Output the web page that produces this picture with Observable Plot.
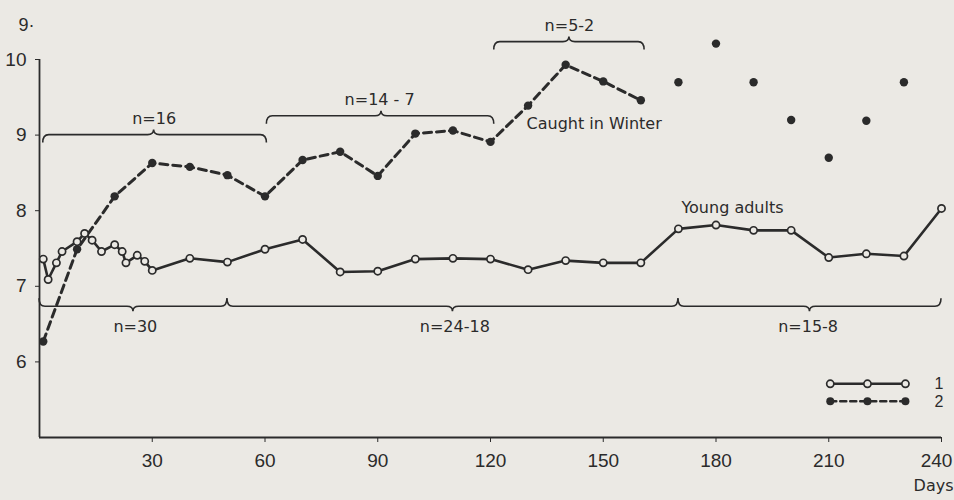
<!DOCTYPE html>
<html><head><meta charset="utf-8">
<script src="https://cdn.jsdelivr.net/npm/d3@7"></script>
<script src="https://cdn.jsdelivr.net/npm/@observablehq/plot@0.6"></script>
<style>
html,body{margin:0;padding:0;background:#ebe9e4;}
#chart svg [aria-label^="x-axis"] text, #chart svg [aria-label^="y-axis"] text{font-family:"Liberation Sans Narrow","Liberation Sans",sans-serif;font-size:19px;}
</style></head>
<body><div id="chart"></div>
<script>
// Series 1 (young adults), open circles, solid line
const days1 = [1, 2.3, 4.5, 6, 10, 12, 14, 16.5, 20, 22, 23, 26, 28, 30, 40, 50, 60, 70, 80, 90, 100, 110, 120, 130, 140, 150, 160, 170, 180, 190, 200, 210, 220, 230, 240];
const values1 = [7.36, 7.09, 7.31, 7.46, 7.59, 7.70, 7.61, 7.46, 7.55, 7.46, 7.31, 7.41, 7.33, 7.21, 7.37, 7.32, 7.49, 7.62, 7.19, 7.20, 7.36, 7.37, 7.36, 7.22, 7.34, 7.31, 7.31, 7.76, 7.81, 7.74, 7.74, 7.38, 7.43, 7.40, 8.03];
// Series 2 (caught in winter), filled dots, dashed line
const days2 = [1, 10, 20, 30, 40, 50, 60, 70, 80, 90, 100, 110, 120, 130, 140, 150, 160];
const values2 = [6.27, 7.49, 8.19, 8.63, 8.58, 8.47, 8.19, 8.67, 8.78, 8.46, 9.02, 9.06, 8.91, 9.39, 9.93, 9.71, 9.46];
// Series 2, single unconnected dots
const days2b = [170, 180, 190, 200, 210, 220, 230];
const values2b = [9.70, 10.21, 9.70, 9.20, 8.70, 9.19, 9.70];
// Axis ticks
const xTicks = [30, 60, 90, 120, 150, 180, 210, 240];
const yTicks = [6, 7, 8, 9, 10];
// Group sizes (brace labels)
const groupLabels = ["n=16", "n=14 - 7", "n=5-2", "n=30", "n=24-18", "n=15-8"];
const legendLabels = ["1", "2"];

const ink = "#2b2b2b";
const bg = "#ebe9e4";

const s1 = days1.map((d, i) => ({day: d, v: values1[i]}));
const s2 = days2.map((d, i) => ({day: d, v: values2[i]}));
const s2b = days2b.map((d, i) => ({day: d, v: values2b[i]}));

// brace annotations (data coordinates): x0, x1, tip, level, opening
const braces = [
  {x0: 1, x1: 60.5, xm: 30.5, y: 9.0, dir: 1},
  {x0: 60.5, x1: 121, xm: 91, y: 9.25, dir: 1},
  {x0: 121, x1: 161, xm: 141, y: 10.23, dir: 1},
  {x0: 0, x1: 50, xm: 25, y: 6.73, dir: -1},
  {x0: 50, x1: 170, xm: 110, y: 6.73, dir: -1},
  {x0: 170, x1: 240, xm: 205, y: 6.73, dir: -1}
];
const labelPos = [
  {x: 30.5, y: 9.22}, {x: 90.5, y: 9.46}, {x: 141, y: 10.45},
  {x: 25.5, y: 6.46}, {x: 110.5, y: 6.46}, {x: 204.5, y: 6.46}
];
const labels = groupLabels.map((t, i) => ({t, ...labelPos[i]}));

function braceMark(index, scales) {
  const ns = "http://www.w3.org/2000/svg";
  const g = document.createElementNS(ns, "g");
  for (const b of braces) {
    const X0 = scales.x(b.x0), X1 = scales.x(b.x1), XM = scales.x(b.xm), Y = scales.y(b.y);
    const s = b.dir, h = 8, r = 6, t = 5;
    const d = `M${X0},${Y + s * h} Q${X0},${Y} ${X0 + r},${Y} L${XM - r},${Y} Q${XM},${Y} ${XM},${Y - s * t} Q${XM},${Y} ${XM + r},${Y} L${X1 - r},${Y} Q${X1},${Y} ${X1},${Y + s * h}`;
    const p = document.createElementNS(ns, "path");
    p.setAttribute("d", d);
    p.setAttribute("fill", "none");
    p.setAttribute("stroke", ink);
    p.setAttribute("stroke-width", "1.6");
    g.appendChild(p);
  }
  return g;
}

// legend samples (annotation layout)
const legX = [210.4, 220.3, 230.4];
const leg1 = legX.map(x => ({day: x, v: 5.71}));
const leg2 = legX.map(x => ({day: x, v: 5.48}));

const chart = Plot.plot({
  width: 954, height: 500,
  marginLeft: 39, marginRight: 13, marginTop: 59, marginBottom: 63,
  style: {background: bg, color: ink, fontFamily: "DejaVu Sans", fontSize: "17px"},
  x: {domain: [0, 240], ticks: xTicks, tickSize: 5, tickPadding: 11, tickFormat: d3.format("d"), label: null},
  y: {domain: [5, 10], ticks: yTicks, tickSize: 4, tickPadding: 9, tickFormat: d3.format("d"), label: null},
  marks: [
    Plot.ruleY([5], {stroke: ink, strokeWidth: 1.8}),
    Plot.ruleX([0], {y1: 5, y2: 10, stroke: ink, strokeWidth: 1.8}),
    braceMark,
    Plot.line(s2, {x: "day", y: "v", stroke: ink, strokeWidth: 3, strokeDasharray: "8,5"}),
    Plot.line(s1, {x: "day", y: "v", stroke: ink, strokeWidth: 2.6}),
    Plot.dot(s2, {x: "day", y: "v", r: 4.2, fill: ink, stroke: "none"}),
    Plot.dot(s2b, {x: "day", y: "v", r: 4.2, fill: ink, stroke: "none"}),
    Plot.dot(s1, {x: "day", y: "v", r: 3.6, fill: bg, stroke: ink, strokeWidth: 1.7}),
    Plot.text(labels, {x: "x", y: "y", text: "t", fontSize: 16, fill: ink}),
    Plot.text(["Caught in Winter"], {x: 129.6, y: 9.15, text: d => d, textAnchor: "start", fontSize: 16, fill: ink}),
    Plot.text(["Young adults"], {x: 170.8, y: 8.04, text: d => d, textAnchor: "start", fontSize: 16, fill: ink}),
    // legend
    Plot.line(leg1, {x: "day", y: "v", stroke: ink, strokeWidth: 2.4}),
    Plot.dot(leg1, {x: "day", y: "v", r: 3.6, fill: bg, stroke: ink, strokeWidth: 1.7}),
    Plot.line(leg2, {x: "day", y: "v", stroke: ink, strokeWidth: 2.6, strokeDasharray: "6,4"}),
    Plot.dot(leg2, {x: "day", y: "v", r: 4, fill: ink, stroke: "none"}),
    Plot.text(legendLabels, {x: 239.3, y: (d, i) => i === 0 ? 5.71 : 5.47, text: d => d, fontSize: 16, fill: ink, fontFamily: "Liberation Sans Narrow, Liberation Sans"}),
    Plot.text(["Days"], {frameAnchor: "bottom-right", dx: 12, dy: 53, text: d => d, textAnchor: "end", fontSize: 16, fill: ink}),
    Plot.text(["9·"], {frameAnchor: "top-left", dx: -21, dy: -41, text: d => d, textAnchor: "start", fontSize: 18, fill: ink, fontFamily: "Liberation Sans"})
  ]
});
// keep the last x tick label inside the picture, as in the reference
chart.querySelectorAll('[aria-label^="x-axis"] text').forEach(t => {
  if (t.textContent.trim() === "240") t.setAttribute("dx", "-5");
});
document.getElementById("chart").appendChild(chart);
</script>
</body></html>
